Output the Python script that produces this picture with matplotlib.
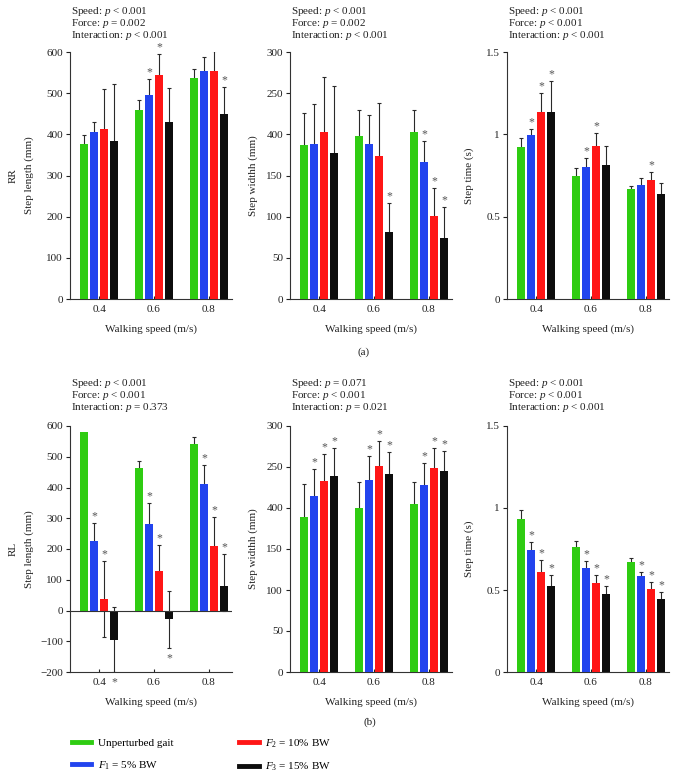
import numpy as np
import matplotlib
matplotlib.use('Agg')
import matplotlib.pyplot as plt
from matplotlib.lines import Line2D

plt.rcParams['font.family'] = ['Liberation Serif', 'DejaVu Serif']
plt.rcParams['mathtext.fontset'] = 'custom'
plt.rcParams['mathtext.rm'] = 'Liberation Serif'
plt.rcParams['mathtext.it'] = 'Liberation Serif:italic'

# ---- data (rows = condition, columns = walking speed) ----
speeds = ['0.4', '0.6', '0.8']
conditions = ['Unperturbed gait', '$F_1$ = 5% BW', '$F_2$ = 10% BW', '$F_3$ = 15% BW']
colors = ['#2fcc12', '#2244ee', '#ff1616', '#0d0d0d']

# (a) RR
rr_length = [[377, 458, 537], [406, 496, 553], [414, 543, 555], [385, 430, 449]]
rr_length_sd = [[21, 26, 22], [23, 39, 35], [96, 53, 47], [137, 83, 65]]
rr_length_sig = [[0, 0, 0], [0, 1, 0], [0, 1, 0], [0, 0, 1]]

rr_width = [[187, 198, 203], [188, 188, 167], [203, 174, 101], [177, 81, 74]]
rr_width_sd = [[39, 32, 27], [49, 36, 25], [67, 64, 34], [82, 36, 38]]
rr_width_sig = [[0, 0, 0], [0, 0, 1], [0, 0, 1], [0, 1, 1]]

rr_time = [[0.925, 0.75, 0.665], [0.995, 0.80, 0.69], [1.135, 0.93, 0.72], [1.135, 0.815, 0.64]]
rr_time_sd = [[0.05, 0.045, 0.022], [0.04, 0.055, 0.045], [0.115, 0.08, 0.05], [0.19, 0.113, 0.066]]
rr_time_sig = [[0, 0, 0], [1, 1, 0], [1, 1, 1], [1, 0, 0]]

# (b) RL
rl_length = [[582, 463, 543], [225, 281, 411], [37, 128, 210], [-95, -28, 80]]
rl_length_sd = [[np.nan, 24, 20], [61, 70, 62], [123, 85, 93], [105, 93, 105]]
# lower whisker (only visible where it leaves the bar)
rl_length_sd_low = [[np.nan, 24, 20], [61, 70, 62], [123, 85, 93], [105, 93, 80]]
rl_length_sig = [[0, 0, 0], [1, 1, 1], [1, 1, 1], [1, 1, 1]]

rl_width = [[189, 200, 205], [215, 234, 228], [233, 251, 249], [239, 242, 245]]
rl_width_sd = [[40, 32, 27], [33, 29, 27], [33, 31, 24], [34, 26, 24]]
rl_width_sig = [[0, 0, 0], [1, 1, 1], [1, 1, 1], [1, 1, 1]]

rl_time = [[0.935, 0.76, 0.67], [0.745, 0.635, 0.585], [0.61, 0.54, 0.505], [0.525, 0.475, 0.445]]
rl_time_sd = [[0.055, 0.04, 0.025], [0.045, 0.04, 0.025], [0.07, 0.05, 0.045], [0.065, 0.05, 0.04]]
rl_time_sig = [[0, 0, 0], [1, 1, 1], [1, 1, 1], [1, 1, 1]]

stats_a = [['< 0.001', '= 0.002', '< 0.001'],
           ['< 0.001', '= 0.002', '< 0.001'],
           ['< 0.001', '< 0.001', '< 0.001']]
stats_b = [['< 0.001', '< 0.001', '= 0.373'],
           ['= 0.071', '< 0.001', '= 0.021'],
           ['< 0.001', '< 0.001', '< 0.001']]

length_ticks = [0, 100, 200, 300, 400, 500, 600]
rl_length_ticks = [-200, -100, 0, 100, 200, 300, 400, 500, 600]
width_ticks = [0, 50, 100, 150, 200, 250, 300]
width_ticklabels = ['0', '50', '100', '150', '400', '250', '300']
time_ticks = [0, 0.5, 1, 1.5]
time_ticklabels = ['0', '0.5', '1', '1.5']

FS = 8
W, H = 679, 772


def draw_panel(ax, data, sd, sig, yticks, yticklabels, ylim, sd_low=None):
    if sd_low is None:
        sd_low = sd
    x = np.arange(len(speeds))
    offsets = (np.arange(4) - 1.5) * 0.182
    for i in range(4):
        xs = x + offsets[i]
        vals = np.array(data[i], float)
        errs = np.array(sd[i], float)
        lows = np.array(sd_low[i], float)
        ax.bar(xs, vals, width=0.145, color=colors[i], linewidth=0, zorder=3)
        ok = np.isfinite(errs)
        ax.errorbar(xs[ok], vals[ok], yerr=[lows[ok], errs[ok]], fmt='none', ecolor='#2a2a2a',
                    elinewidth=0.8, capsize=1.6, capthick=0.8, zorder=2)
        for j in range(len(speeds)):
            if not sig[i][j]:
                continue
            e = errs[j] if ok[j] else 0
            if vals[j] >= 0:
                ax.annotate('*', (xs[j], vals[j] + e), xytext=(0, 0.5), textcoords='offset points',
                            ha='center', va='bottom', fontsize=8.5, color='#555555', annotation_clip=False)
            else:
                ax.annotate('*', (xs[j], vals[j] - e), xytext=(0, -3), textcoords='offset points',
                            ha='center', va='top', fontsize=8.5, color='#555555', annotation_clip=False)
    ax.set_xlim(-0.53, 2.42)
    ax.set_ylim(*ylim)
    ax.set_xticks(x)
    ax.set_xticklabels(speeds)
    ax.set_yticks(yticks)
    ax.set_yticklabels(yticklabels)
    for s in ['top', 'right']:
        ax.spines[s].set_visible(False)
    for s in ['left', 'bottom']:
        ax.spines[s].set_color('#333333')
        ax.spines[s].set_linewidth(0.8)
    ax.tick_params(axis='y', direction='out', length=3, width=0.8, labelsize=FS, pad=2, colors='#222222')
    ax.tick_params(axis='x', direction='in', length=2.5, width=0.8, labelsize=FS, pad=4.5, colors='#222222')
    ax.set_xlabel('Walking speed (m/s)', fontsize=FS, labelpad=7, color='#222222')


fig = plt.figure(figsize=(W / 100, H / 100), dpi=100)

lefts = [70, 290, 507]
aw = 162
rows = [(52, 299), (426, 672)]

panels_a = [(rr_length, rr_length_sd, rr_length_sig, length_ticks, [str(t) for t in length_ticks], (0, 600)),
            (rr_width, rr_width_sd, rr_width_sig, width_ticks, width_ticklabels, (0, 300)),
            (rr_time, rr_time_sd, rr_time_sig, time_ticks, time_ticklabels, (0, 1.5))]
panels_b = [(rl_length, rl_length_sd, rl_length_sig, rl_length_ticks,
             [str(t).replace('-', '\u2212') for t in rl_length_ticks], (-200, 600), rl_length_sd_low),
            (rl_width, rl_width_sd, rl_width_sig, width_ticks, width_ticklabels, (0, 300)),
            (rl_time, rl_time_sd, rl_time_sig, time_ticks, time_ticklabels, (0, 1.5))]

ylabels = ['Step length (mm)', 'Step widthh (mm)', 'Step time (s)']
ylabel_x = [29, 253, 469]
stat_names = ['Speed', 'Force', 'Interaction']

for r, (panels, stats, tag) in enumerate([(panels_a, stats_a, 'RR'), (panels_b, stats_b, 'RL')]):
    top, bot = rows[r]
    for c, p in enumerate(panels):
        ax = fig.add_axes([lefts[c] / W, 1 - bot / H, aw / W, (bot - top) / H])
        draw_panel(ax, *p)
        if r == 1 and c == 0:
            ax.axhline(0, color='#333333', lw=0.8, zorder=4)
        ymid = 1 - (top + bot) / 2 / H
        fig.text(ylabel_x[c] / W, ymid, ylabels[c], rotation=90, ha='center', va='center',
                 fontsize=FS, color='#222222')
        if c == 0:
            fig.text(13 / W, ymid, tag, rotation=90, ha='center', va='center', fontsize=FS, color='#222222')
        for k in range(3):
            yk = top - 40 + 11.6 * k if r == 0 else top - 43 + 12 * k
            fig.text((lefts[c] + 1) / W, 1 - yk / H, stat_names[k] + ': $p$ ' + stats[c][k],
                     ha='left', va='center', fontsize=FS, color='#222222')

fig.text(364 / W, 1 - 352 / H, '(a)', ha='center', va='center', fontsize=FS, color='#222222')
fig.text(370 / W, 1 - 722 / H, '(b)', ha='center', va='center', fontsize=FS, color='#222222')

handles = [Line2D([0], [0], color=c, lw=3.5) for c in colors]
fig.legend(handles, conditions, loc='upper left', bbox_to_anchor=(72 / W, 1 - 737 / H), ncol=2,
           frameon=False, fontsize=8, handlelength=1.75, handletextpad=0.6, columnspacing=5.9,
           labelspacing=1.0, borderpad=0, borderaxespad=0)

fig.savefig('out.png', dpi=100)
